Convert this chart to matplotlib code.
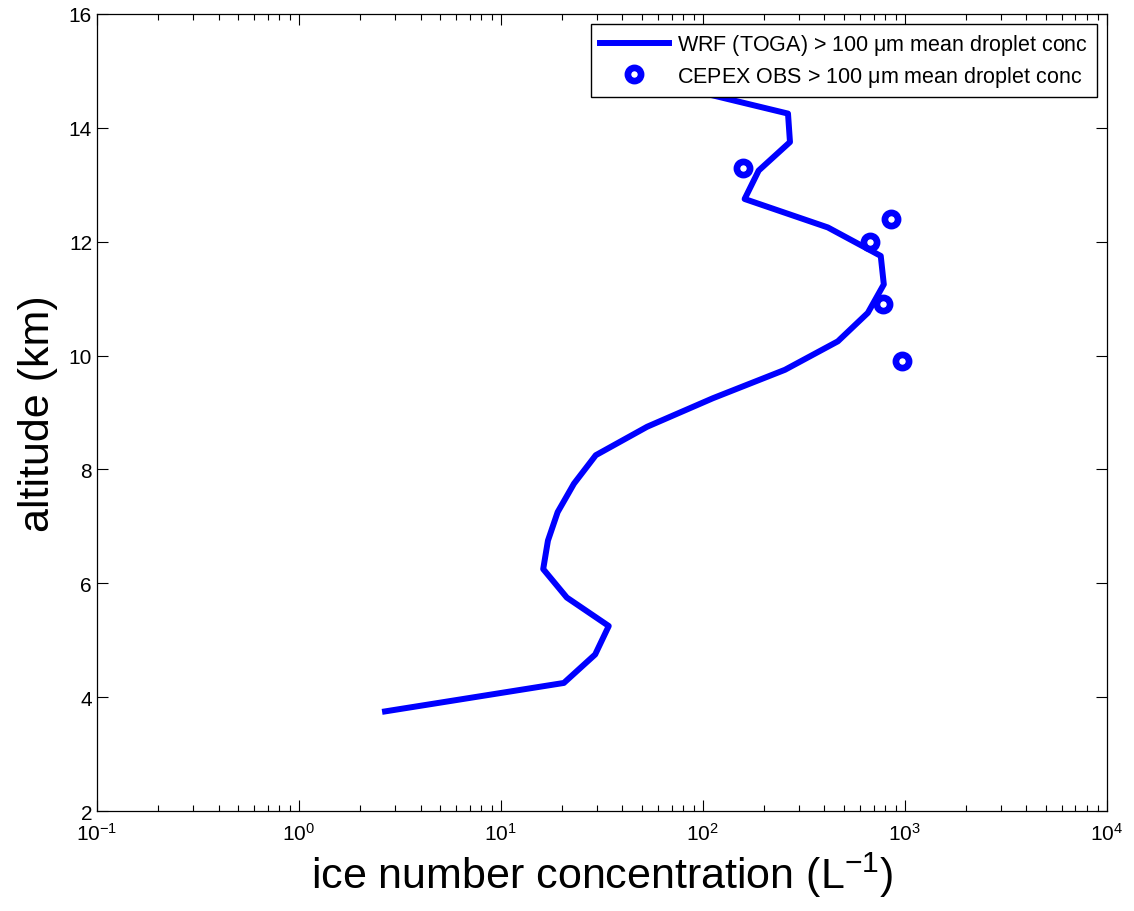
import matplotlib
matplotlib.use("Agg")
import matplotlib.pyplot as plt
import numpy as np

plt.rcParams['font.family'] = ['Liberation Sans', 'DejaVu Sans']
plt.rcParams['mathtext.fontset'] = 'custom'
plt.rcParams['mathtext.rm'] = 'Liberation Sans'
plt.rcParams['mathtext.it'] = 'Liberation Sans'

# modelo WRF (TOGA), concentracion media > 100 um
wrf_alt = [3.75, 4.25, 4.75, 5.25, 5.75, 6.25, 6.75, 7.25, 7.75, 8.25, 8.75,
           9.25, 9.75, 10.25, 10.75, 11.25, 11.75, 12.25, 12.75, 13.25,
           13.75, 14.25, 14.75, 15.25, 15.75]
wrf_conc = [2.67, 20.5, 29.3, 34.2, 21.2, 16.2, 17.1, 19.1, 23.0, 29.5, 53.0,
            112, 255, 466, 656, 787, 760, 416, 161, 189,
            270, 264, 69, 110, 160]

# observaciones CEPEX
obs_alt = [13.3, 12.4, 12.0, 10.9, 9.9]
obs_conc = [158, 853, 671, 778, 966]

fig = plt.figure(figsize=(11.34, 9.12), dpi=100)
ax = fig.add_axes([0.0855, 0.1096, 0.8905, 0.874])

ax.plot(wrf_conc, wrf_alt, color=(0, 0, 1), lw=4.3,
        label=r'WRF (TOGA) > 100 $\mu$m mean droplet conc')
ax.plot(obs_conc, obs_alt, 'o', color=(0, 0, 1), mfc='white', ms=9.5, mew=4.8,
        label=r'CEPEX OBS > 100 $\mu$m mean droplet conc')

ax.set_xscale('log')
ax.set_xlim(0.1, 1e4)
ax.set_ylim(2, 16)
ax.set_yticks(np.arange(2, 17, 2))

ax.tick_params(which='both', direction='in', top=True, right=True, labelsize=15)
ax.tick_params(which='major', length=8, width=0.8)
ax.tick_params(which='minor', length=4, width=0.8)
ax.tick_params(axis='x', pad=8)
for s in ax.spines.values():
    s.set_linewidth(0.9)

ax.set_xlabel(r'ice number concentration (L$^{-1}$)', fontsize=31)
ax.set_ylabel('altitude (km)', fontsize=31, labelpad=8)

leg = ax.legend(loc='upper right', fontsize=15.5, handlelength=3.2,
                framealpha=1, fancybox=False, edgecolor='black',
                borderaxespad=0.45, borderpad=0.4, labelspacing=0.3,
                handletextpad=0.4)
leg.get_frame().set_linewidth(1.0)

fig.savefig("out.png", dpi=100)
